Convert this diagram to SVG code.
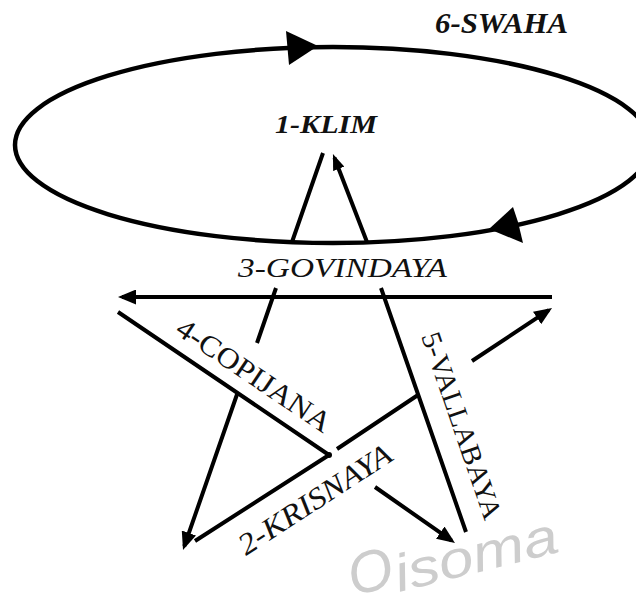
<svg xmlns="http://www.w3.org/2000/svg" width="636" height="609" viewBox="0 0 636 609">
  <style>
    .ln { fill: none; stroke: #000; stroke-width: 4; stroke-linecap: butt; }
    .el { fill: none; stroke: #000; stroke-width: 4.5; }
    .ah { fill: #000; stroke: none; }
    .lbl { font-family: "Liberation Serif", "Times New Roman", serif; fill: #111; }
    .bi { font-weight: bold; font-style: italic; }
    .it { font-style: italic; }
    .wm { font-family: "Liberation Sans", Arial, sans-serif; font-style: italic; fill: #cdcdcd; }
  </style>
  <defs>
    <marker id="arrow" viewBox="0 0 18 15" refX="14" refY="7.5" markerWidth="18" markerHeight="15" orient="auto" markerUnits="userSpaceOnUse">
      <path d="M0,0 L18,7.5 L0,15 z" fill="#000"/>
    </marker>
    <marker id="arrowSmall" viewBox="0 0 16 12" refX="12" refY="6" markerWidth="16" markerHeight="12" orient="auto" markerUnits="userSpaceOnUse">
      <path d="M0,0 L16,6 L0,12 z" fill="#000"/>
    </marker>
  </defs>
  <rect width="636" height="609" fill="#fff"/>

  <g id="watermark">
    <text class="wm" transform="translate(353,596) rotate(-14)" font-size="58">O</text>
    <text class="wm" transform="translate(399,592) rotate(-14)" font-size="52" textLength="167" lengthAdjust="spacingAndGlyphs">isoma</text>
  </g>

  <g id="connectors">
    <ellipse class="el" cx="333" cy="145" rx="318" ry="98"/>
    <polygon class="ah" points="318,46 286,31 289,65"/>
    <polygon class="ah" points="489,229 513,207 518,222 523,243"/>
    <path class="ln" d="M323,153 L292,242 M276,288 L257,343 M237.5,393 L184.3,546.2" marker-end="url(#arrow)"/>
    <path class="ln" d="M466,532 L381,288 M367,242 L334.4,157.7" marker-end="url(#arrowSmall)"/>
    <path class="ln" d="M552,297 L122,297" marker-end="url(#arrow)"/>
    <path class="ln" d="M118,312 L329,455 M375,487 L451.7,540.7" marker-end="url(#arrow)"/>
    <path class="ln" d="M195,541 L329,455 M337,449 L418,395 M472,361 L548.7,310.2" marker-end="url(#arrow)"/>
    <circle cx="329" cy="455" r="3" fill="#000"/>
  </g>

  <g id="node-6-swaha">
    <text class="lbl bi" x="435" y="33" font-size="30" textLength="133" lengthAdjust="spacingAndGlyphs">6-SWAHA</text>
  </g>
  <g id="node-1-klim">
    <text class="lbl bi" x="275" y="133" font-size="25" textLength="102" lengthAdjust="spacingAndGlyphs">1-KLIM</text>
  </g>
  <g id="node-3-govindaya">
    <text class="lbl it" x="238" y="277" font-size="28" textLength="209" lengthAdjust="spacingAndGlyphs">3-GOVINDAYA</text>
  </g>
  <g id="node-4-copijana">
    <text class="lbl" transform="translate(174,333) rotate(34)" font-size="29" textLength="180" lengthAdjust="spacingAndGlyphs">4-COPIJANA</text>
  </g>
  <g id="node-5-vallabaya">
    <text class="lbl" transform="translate(421,336) rotate(71)" font-size="28" textLength="196" lengthAdjust="spacingAndGlyphs">5-VALLABAYA</text>
  </g>
  <g id="node-2-krisnaya">
    <text class="lbl it" transform="translate(246,556) rotate(-33)" font-size="30" textLength="177" lengthAdjust="spacingAndGlyphs">2-KRISNAYA</text>
  </g>
</svg>
